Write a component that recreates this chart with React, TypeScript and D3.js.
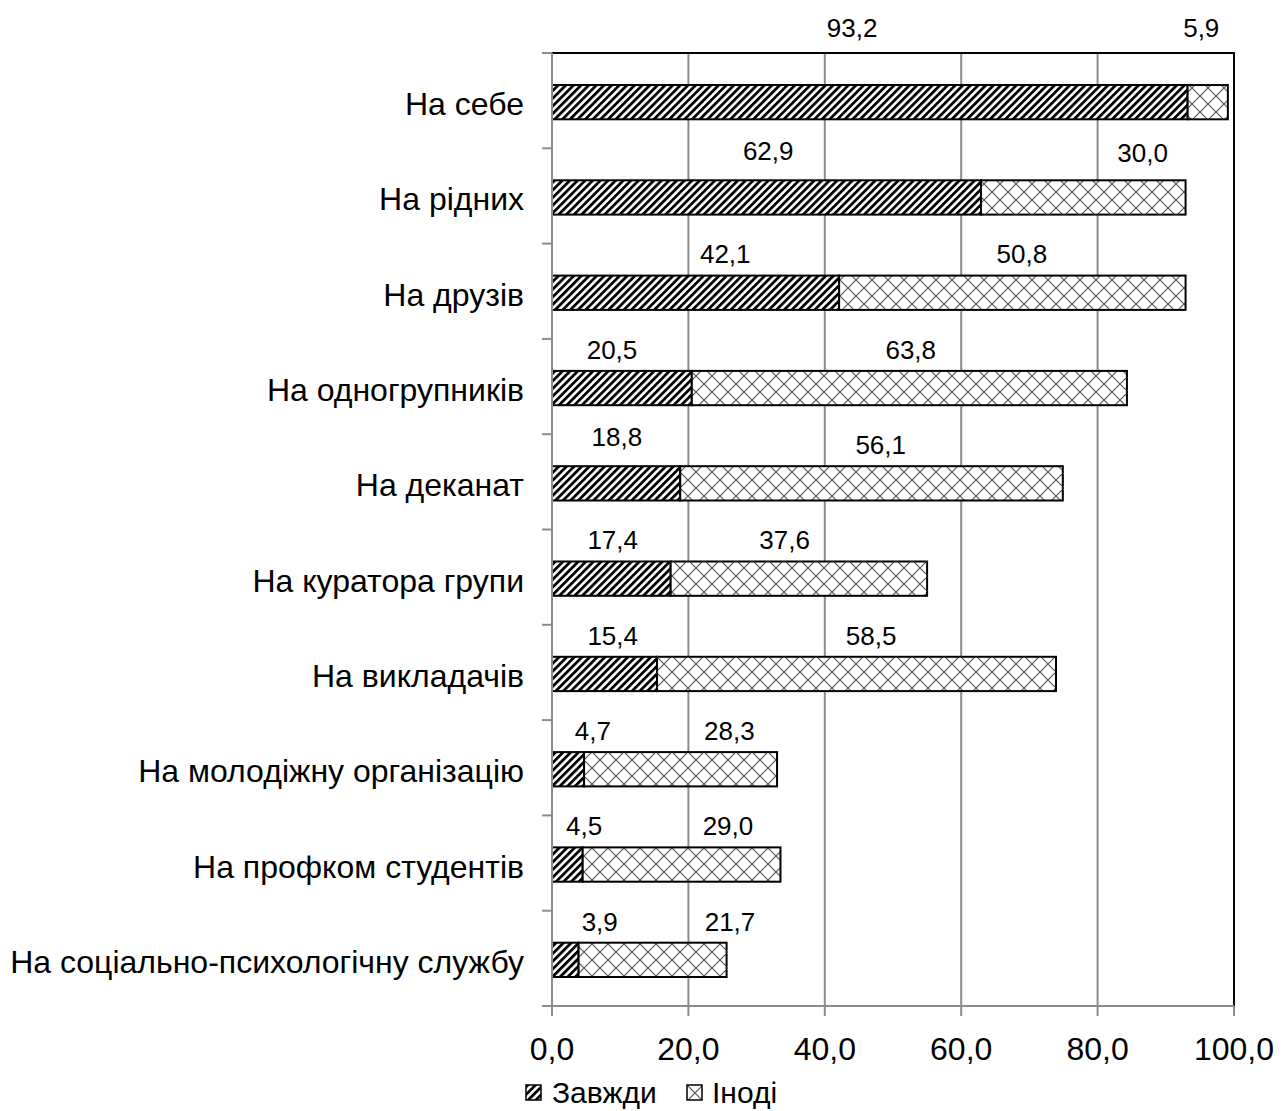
import { useEffect } from "react";
import * as d3 from "d3";

const categories = [
  "На себе",
  "На рідних",
  "На друзів",
  "На одногрупників",
  "На деканат",
  "На куратора групи",
  "На викладачів",
  "На молодіжну організацію",
  "На профком студентів",
  "На соціально-психологічну службу",
];
const always = [93.2, 62.9, 42.1, 20.5, 18.8, 17.4, 15.4, 4.7, 4.5, 3.9];
const sometimes = [5.9, 30.0, 50.8, 63.8, 56.1, 37.6, 58.5, 28.3, 29.0, 21.7];
const seriesNames = ["Завжди", "Іноді"];
const xTicks = [0, 20, 40, 60, 80, 100];

// where the (hand-moved) data labels sit, in axis units
const alwaysLabelAt = [44.0, 31.7, 25.4, 8.8, 9.5, 8.9, 8.9, 6.0, 4.7, 7.0];
const sometimesLabelAt = [95.2, 86.6, 68.9, 52.6, 48.2, 34.1, 46.8, 26.0, 25.8, 26.1];

export default function App() {
  const width = 1282;
  const height = 1111;
  const marginTop = 53;
  const marginBottom = 105;
  const marginLeft = 552;
  const marginRight = 48;
  const font = "'Liberation Sans', Arial, sans-serif";

  useEffect(() => {
    document.body.style.margin = "0";
  }, []);

  const fmt = d3.formatLocale({ decimal: ",", thousands: " ", grouping: [3], currency: ["", ""] }).format(".1f");

  const x = d3.scaleLinear().domain([0, 100]).range([marginLeft, width - marginRight]);
  const y = d3.scaleBand().domain(categories).range([marginTop, height - marginBottom]).padding(0);
  const bw = y.bandwidth();
  const barH = bw * 0.36;

  // label lift above band centre (first two rows were dragged higher)
  const lift = (i: number, s: number) => {
    if (i === 0) return bw * 0.77;
    if (i === 1) return s === 0 ? bw * 0.48 : bw * 0.45;
    if (i === 4 && s === 0) return bw * 0.47;
    return bw * 0.39;
  };

  const yBottom = height - marginBottom;

  return (
    <svg width={width} height={height} style={{ display: "block", background: "#fff" }} fontFamily={font}>
      <defs>
        <pattern id="stripes" patternUnits="userSpaceOnUse" width={5.4} height={5.4} patternTransform="rotate(45)">
          <rect width={5.4} height={5.4} fill="#fff" />
          <rect width={2.8} height={5.4} fill="#000" />
        </pattern>
        <pattern id="cross" patternUnits="userSpaceOnUse" width={16} height={16}>
          <rect width={16} height={16} fill="#fff" />
          <path d="M0,0L16,16M16,0L0,16" stroke="#555" strokeWidth={1.2} />
        </pattern>
      </defs>

      {/* gridlines */}
      <g stroke="#8c8c8c" strokeWidth={2}>
        {xTicks.slice(1, -1).map(t => (
          <line key={t} x1={x(t)} x2={x(t)} y1={marginTop} y2={yBottom} />
        ))}
      </g>
      {/* plot border top/right */}
      <path d={`M${x(0)},${marginTop}H${x(100)}V${yBottom}`} fill="none" stroke="#000" strokeWidth={2} />

      {/* bars */}
      {categories.map((c, i) => {
        const cy = y(c)! + bw / 2 + 1.5;
        return (
          <g key={c}>
            <rect x={x(0)} y={cy - barH / 2} width={x(always[i]) - x(0)} height={barH}
              fill="url(#stripes)" stroke="#000" strokeWidth={2} />
            <rect x={x(always[i])} y={cy - barH / 2} width={x(always[i] + sometimes[i]) - x(always[i])} height={barH}
              fill="url(#cross)" stroke="#000" strokeWidth={2} />
          </g>
        );
      })}

      {/* data labels */}
      <g fontSize={26} textAnchor="middle" fill="#000">
        {categories.map((c, i) => {
          const cyb = y(c)! + bw / 2;
          return (
            <g key={c}>
              <text x={x(alwaysLabelAt[i])} y={cyb - lift(i, 0)} dy="0.36em">{fmt(always[i])}</text>
              <text x={x(sometimesLabelAt[i])} y={cyb - lift(i, 1)} dy="0.36em">{fmt(sometimes[i])}</text>
            </g>
          );
        })}
      </g>

      {/* y axis */}
      <g stroke="#8c8c8c" strokeWidth={2}>
        <line x1={x(0)} x2={x(0)} y1={marginTop} y2={yBottom} />
        {[...categories.map(c => y(c)!), yBottom].map((v, i) => (
          <line key={i} x1={x(0) - 10} x2={x(0)} y1={v} y2={v} />
        ))}
      </g>
      <g fontSize={32} textAnchor="end" fill="#000">
        {categories.map(c => (
          <text key={c} x={x(0) - 28} y={y(c)! + bw / 2 + 3} dy="0.36em">{c}</text>
        ))}
      </g>

      {/* x axis */}
      <g stroke="#8c8c8c" strokeWidth={2}>
        <line x1={x(0)} x2={x(100)} y1={yBottom} y2={yBottom} />
        {xTicks.map(t => (
          <line key={t} x1={x(t)} x2={x(t)} y1={yBottom} y2={yBottom + 10} />
        ))}
      </g>
      <g fontSize={32} textAnchor="middle" fill="#000">
        {xTicks.map(t => (
          <text key={t} x={x(t)} y={yBottom + 42} dy="0.36em">{fmt(t)}</text>
        ))}
      </g>

      {/* legend */}
      <g fontSize={30}>
        {seriesNames.map((name, i) => {
          const lx = i === 0 ? 526 : 687;
          return (
            <g key={name} transform={`translate(${lx},${1085})`}>
              <rect width={15} height={15} fill={i === 0 ? "url(#stripes)" : "url(#cross)"} stroke="#000" strokeWidth={1.5} />
              <text x={i === 0 ? 26 : 25} y={7} dy="0.36em">{name}</text>
            </g>
          );
        })}
      </g>
    </svg>
  );
}
